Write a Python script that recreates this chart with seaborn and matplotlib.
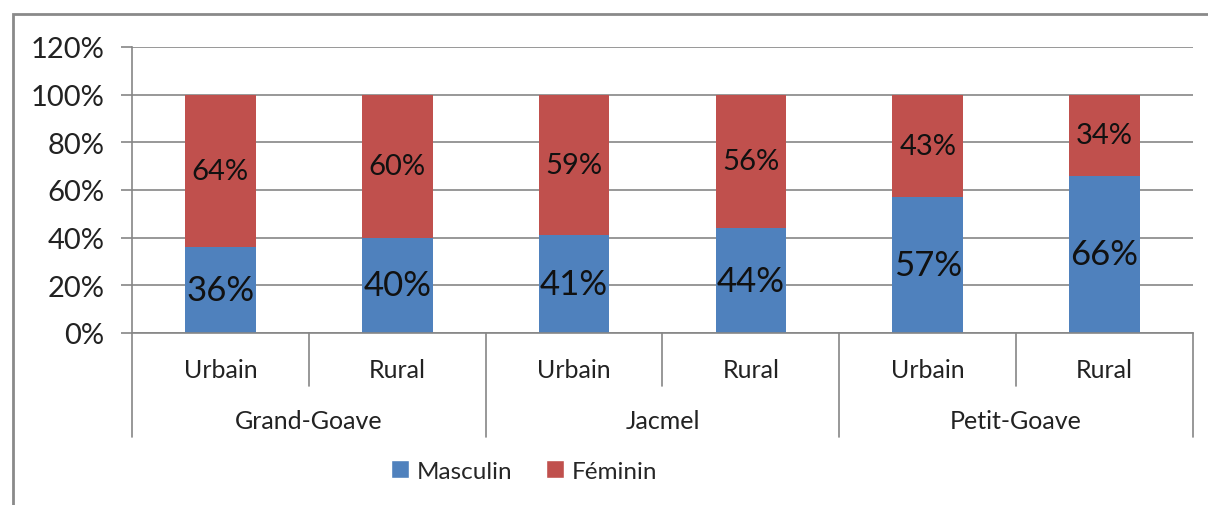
import numpy as np
import pandas as pd
import seaborn as sns
import matplotlib.pyplot as plt
import matplotlib.transforms as mtransforms
from matplotlib.patches import Rectangle, Patch

# ---- data ----
groups = ["Grand-Goave", "Jacmel", "Petit-Goave"]
zones = ["Urbain", "Rural"]
masculin = [36, 40, 41, 44, 57, 66]
feminin = [64, 60, 59, 56, 43, 34]
y_ticks = [0, 20, 40, 60, 80, 100, 120]

blue = "#4F81BD"
red = "#C0504D"
grey = "#868686"

keys = [f"{g}|{z}" for g in groups for z in zones]
df = pd.DataFrame({"cat": keys, "Masculin": masculin, "Féminin": feminin})
df["total"] = df["Masculin"] + df["Féminin"]

sns.set_theme(style="white")
plt.rcParams["font.family"] = ["Lato", "DejaVu Sans"]

fig = plt.figure(figsize=(12.08, 5.06), dpi=100)
ax = fig.add_axes([132 / 1208, 1 - 334 / 506, (1193 - 132) / 1208, (334 - 48) / 506])

# stacked bars: full height in red, masculin share in blue over it
sns.barplot(data=df, x="cat", y="total", color=red, saturation=1, width=0.4,
            linewidth=0, ax=ax)
sns.barplot(data=df, x="cat", y="Masculin", color=blue, saturation=1, width=0.4,
            linewidth=0, ax=ax)

ax.set_ylim(0, 120)
ax.set_xlim(-0.5, len(keys) - 0.5)
ax.set_yticks(y_ticks)
ax.set_yticklabels([f"{t}%" for t in y_ticks], fontsize=21, color="#222222")
ax.set_xticks([])
ax.set_xlabel("")
ax.set_ylabel("")
ax.yaxis.grid(True, color=grey, linewidth=1.2)
ax.set_axisbelow(True)
ax.tick_params(axis="y", length=8, width=1.2, color=grey, direction="out", pad=12, left=True)
for s in ["top", "right"]:
    ax.spines[s].set_visible(False)
for s in ["left", "bottom"]:
    ax.spines[s].set_color(grey)
    ax.spines[s].set_linewidth(1.2)

# value labels
red_bars = ax.containers[0]
blue_bars = ax.containers[1]
for p, m, f in zip(red_bars, masculin, feminin):
    xc = p.get_x() + p.get_width() / 2
    ax.text(xc, m + f / 2, f"{f}%", ha="center", va="center", fontsize=21, color="#111111")
for p, m in zip(blue_bars, masculin):
    xc = p.get_x() + p.get_width() / 2
    ax.text(xc, m / 2, f"{m}%", ha="center", va="center", fontsize=25, color="#111111")

# two-level category axis
trans = mtransforms.blended_transform_factory(ax.transData, ax.transAxes)
ax_h = 334 - 48
for i, z in enumerate(zones * len(groups)):
    ax.text(i, -37 / ax_h, z, transform=trans, ha="center", va="center",
            fontsize=18, color="#222222")
for gi, g in enumerate(groups):
    ax.text(gi * 2 + 0.5, -88 / ax_h, g, transform=trans, ha="center", va="center",
            fontsize=18, color="#222222")
for b in np.arange(-0.5, len(keys), 1.0):
    depth = -104 / ax_h if int(b + 0.5) % 2 == 0 else -53 / ax_h
    ax.plot([b, b], [0, depth], transform=trans, color=grey, linewidth=1.2, clip_on=False)

# legend
handles = [Patch(facecolor=blue, label="Masculin"), Patch(facecolor=red, label="Féminin")]
fig.legend(handles=handles, loc="center", bbox_to_anchor=(524 / 1208, 1 - 472 / 506),
           ncol=2, frameon=False, fontsize=17.5, handlelength=0.75, handleheight=0.75,
           handletextpad=0.3, columnspacing=1.4)

# outer chart frame
fig.patches.append(Rectangle((13 / 1208, -0.1), 1.2, 1.1 - 15 / 506, transform=fig.transFigure,
                             fill=False, edgecolor="#8A8A8A", linewidth=2))

fig.savefig("out.png", dpi=100)
